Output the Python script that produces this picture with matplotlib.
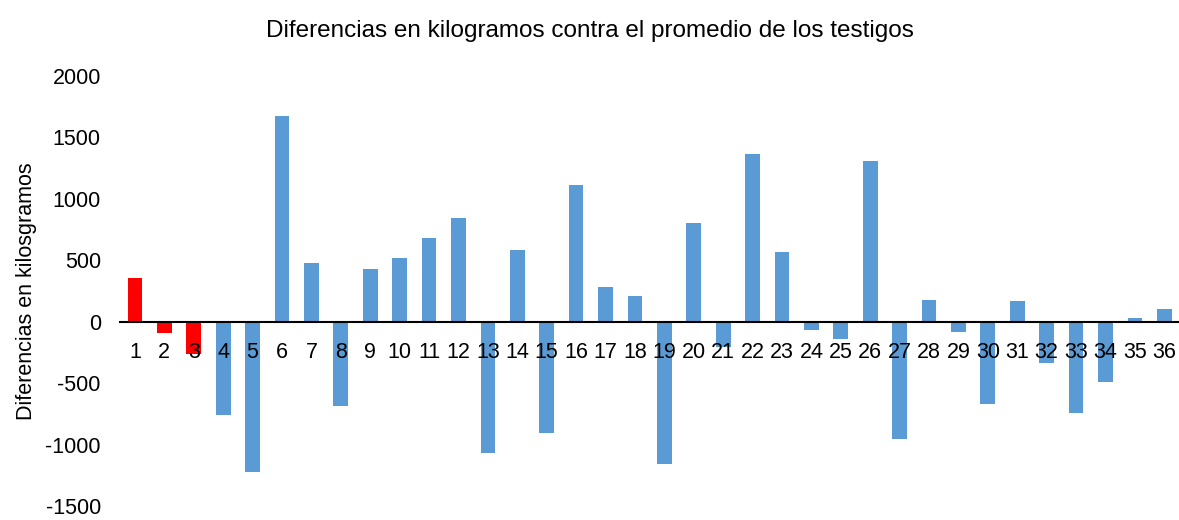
import matplotlib.pyplot as plt

# Diferencias por tratamiento (kg)
tratamientos = list(range(1, 37))
diferencias = [355, -90, -260, -760, -1220, 1670, 480, -690, 425, 515,
               680, 840, -1065, 580, -905, 1110, 285, 205, -1160, 800,
               -205, 1365, 565, -65, -140, 1310, -955, 175, -85, -670,
               170, -335, -745, -490, 30, 100]
colores = ['#FF0000'] * 3 + ['#5B9BD5'] * 33

plt.rcParams['font.family'] = ['Liberation Sans', 'DejaVu Sans']
plt.rcParams['axes.unicode_minus'] = False

fig = plt.figure(figsize=(11.79, 5.2), dpi=100)
ax = fig.add_axes([0.102, 0.027, 0.898, 0.827])

ax.bar(tratamientos, diferencias, width=0.5, color=colores, zorder=1)
ax.set_axisbelow(False)  # etiquetas encima de las barras

ax.set_xlim(0.5, 36.5)
ax.set_ylim(-1500, 2000)
ax.set_yticks(range(-1500, 2001, 500))
ax.set_xticks(tratamientos)
ax.set_xticklabels([str(t) for t in tratamientos])

# eje x sobre el cero, como en Excel
ax.spines['bottom'].set_position(('data', 0))
ax.spines['bottom'].set_color('black')
ax.spines['bottom'].set_linewidth(1.5)
ax.spines['bottom'].set_zorder(3)
for s in ['top', 'right', 'left']:
    ax.spines[s].set_visible(False)

ax.tick_params(axis='x', length=0, pad=15, labelsize=15.5)
ax.tick_params(axis='y', length=0, pad=14, labelsize=15.5)

ax.set_ylabel('Diferencias en kilosgramos', fontsize=15.5, labelpad=6)
fig.text(0.5, 0.94, 'Diferencias en kilogramos contra el promedio de los testigos',
         ha='center', va='center', fontsize=17.5)

fig.savefig('out.png', dpi=100)
